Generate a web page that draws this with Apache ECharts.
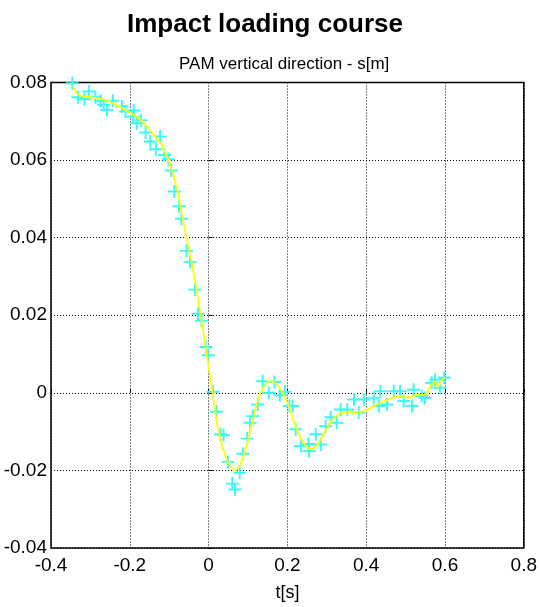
<!DOCTYPE html>
<html>
<head>
<meta charset="utf-8">
<script src="https://cdn.jsdelivr.net/npm/echarts@6/dist/echarts.min.js"></script>
<style>
html,body{margin:0;padding:0;background:#fff;}
#chart{width:540px;height:607px;}
</style>
</head>
<body>
<div id="chart"></div>
<script>
// measured samples: time [s]
const sampleT = [
 -0.346,-0.332,-0.315,-0.304,-0.287,-0.274,-0.266,-0.258,-0.243,-0.220,-0.211,-0.192,-0.190,-0.182,-0.172,-0.160,-0.148,-0.134,-0.123,-0.112,-0.102,-0.095,-0.087,-0.075,-0.069,-0.056,-0.047,-0.035,-0.027,-0.018,-0.007,-0.001,
 0.011,0.020,0.030,0.038,0.049,0.060,0.067,0.079,0.087,0.098,0.105,0.112,0.125,0.137,0.153,0.167,0.181,0.194,0.205,0.213,0.221,0.234,0.253,0.255,0.272,0.285,0.297,0.310,0.325,0.335,0.352,0.369,0.381,0.394,0.419,0.432,0.436,0.453,0.470,0.486,0.495,0.516,0.520,0.541,0.549,0.566,0.575,0.587,0.598
];
// measured samples: displacement s [m]
const sampleS = [
 0.0798,0.0762,0.0757,0.0777,0.0762,0.0753,0.0742,0.0729,0.0753,0.0738,0.0725,0.0712,0.0728,0.0695,0.0703,0.0671,0.0648,0.0628,0.0661,0.0613,0.0602,0.0573,0.0519,0.0481,0.0449,0.0366,0.0337,0.0266,0.0204,0.0186,0.0118,0.0097,
 0.0003,-0.0049,-0.0107,-0.0109,-0.0178,-0.0234,-0.0249,-0.0206,-0.0157,-0.0118,-0.0077,-0.0060,-0.0030,0.0030,0.0000,0.0028,-0.0006,0.0003,-0.0034,-0.0034,-0.0094,-0.0137,-0.0132,-0.0150,-0.0107,-0.0133,-0.0086,-0.0063,-0.0077,-0.0043,-0.0043,-0.0017,-0.0051,-0.0017,-0.0013,-0.0034,0.0004,-0.0030,0.0004,0.0004,-0.0021,-0.0034,0.0008,-0.0008,-0.0013,0.0026,0.0034,0.0013,0.0039
];
// fitted course
const fitT = [-0.345,-0.33,-0.30,-0.27,-0.24,-0.21,-0.18,-0.16,-0.14,-0.12,-0.10,-0.08,-0.06,-0.04,-0.02,-0.005,0.01,0.02,0.03,0.045,0.06,0.068,0.08,0.095,0.11,0.125,0.14,0.155,0.17,0.185,0.20,0.215,0.23,0.245,0.26,0.275,0.29,0.31,0.33,0.35,0.37,0.39,0.41,0.43,0.45,0.47,0.49,0.51,0.53,0.55,0.565,0.575,0.582,0.59,0.60];
const fitS = [0.0790,0.0768,0.0762,0.0757,0.0745,0.0728,0.0710,0.0690,0.0665,0.0640,0.0595,0.0525,0.0420,0.0320,0.0200,0.0100,0.0000,-0.0070,-0.0120,-0.0170,-0.0195,-0.0200,-0.0185,-0.0140,-0.0080,-0.0020,0.0015,0.0030,0.0025,0.0005,-0.0025,-0.0070,-0.0110,-0.0135,-0.0145,-0.0135,-0.0110,-0.0075,-0.0055,-0.0050,-0.0050,-0.0048,-0.0040,-0.0028,-0.0020,-0.0012,-0.0010,-0.0012,-0.0005,-0.0005,0.0020,0.0028,0.0015,0.0030,0.0040];

const titleText = 'Impact loading course';
const subtitleText = 'PAM vertical direction - s[m]';
const xName = 't[s]';

const chart = echarts.init(document.getElementById('chart'));
const font = 'Liberation Sans, Arial, sans-serif';
const plus = 'path://M4.25,0 H5.75 V4.25 H10 V5.75 H5.75 V10 H4.25 V5.75 H0 V4.25 H4.25 Z';

chart.setOption({
  backgroundColor: '#fff',
  animation: false,
  title: [
    {text: titleText, left: 122, top: 7,
     textStyle: {fontFamily: font, fontSize: 26, fontWeight: 'bold', color: '#000'}},
    {text: subtitleText, left: 174, top: 51,
     textStyle: {fontFamily: font, fontSize: 17, fontWeight: 'normal', color: '#000'}}
  ],
  grid: {left: 51, right: 12, top: 82.5, bottom: 56.5, show: true,
         borderColor: '#000', borderWidth: 1.5, backgroundColor: 'transparent'},
  xAxis: {
    type: 'value', min: -0.4, max: 0.8, interval: 0.2,
    name: xName, nameLocation: 'middle', nameGap: 36,
    nameTextStyle: {fontFamily: font, fontSize: 18, color: '#000'},
    axisLine: {show: false},
    axisTick: {show: true, inside: true, length: 4, lineStyle: {color: '#000'}},
    axisLabel: {fontFamily: font, fontSize: 19, color: '#000', margin: 8},
    splitLine: {show: true, lineStyle: {color: '#000', type: [1, 2], width: 1}}
  },
  yAxis: {
    type: 'value', min: -0.04, max: 0.08, interval: 0.02,
    axisLine: {show: false},
    axisTick: {show: true, inside: true, length: 4, lineStyle: {color: '#000'}},
    axisLabel: {fontFamily: font, fontSize: 19, color: '#000', margin: 4},
    splitLine: {show: true, lineStyle: {color: '#000', type: [1, 2], width: 1}}
  },
  series: [
    {
      type: 'scatter', z: 2,
      data: sampleT.map((t, i) => [t, sampleS[i]]),
      symbol: plus, symbolSize: 13,
      itemStyle: {color: '#3cf8f8', opacity: 1}
    },
    {
      type: 'line', z: 3,
      data: fitT.map((t, i) => [t, fitS[i]]),
      smooth: 0.3, showSymbol: false,
      lineStyle: {color: '#ffff00', width: 1.8}
    }
  ]
});
</script>
</body>
</html>
